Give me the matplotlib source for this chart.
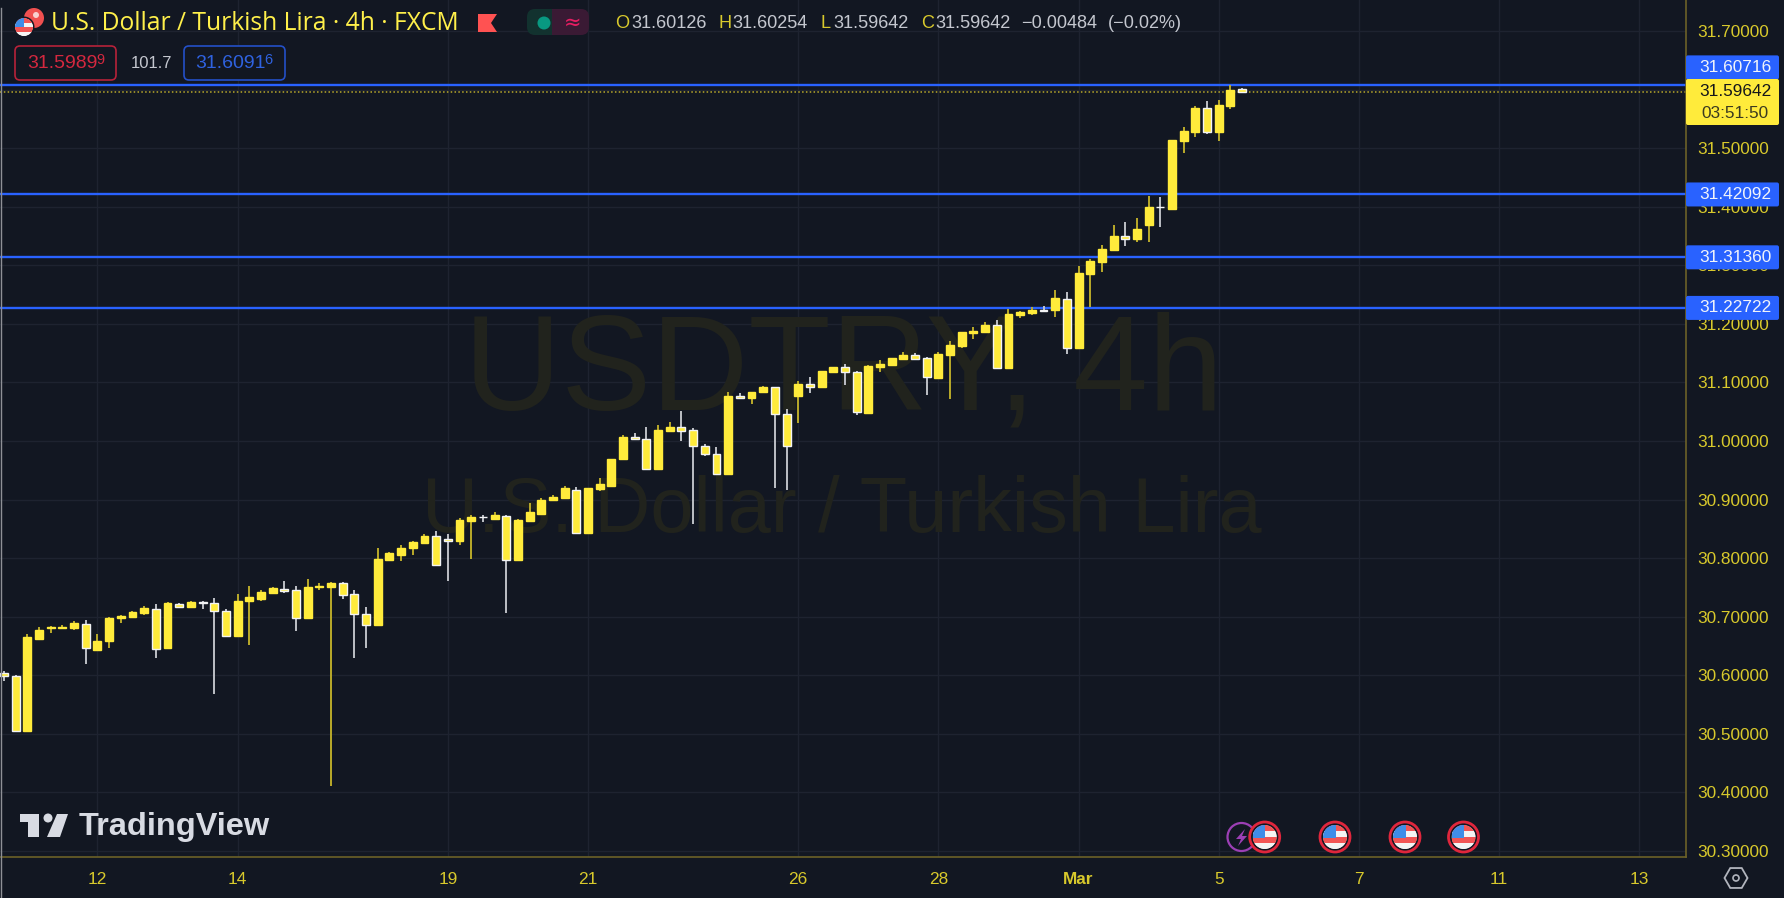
import matplotlib
matplotlib.use("Agg")
import matplotlib.pyplot as plt
from matplotlib.patches import Circle, FancyBboxPatch, Polygon, Rectangle, RegularPolygon

# candles
opens = [30.604, 30.599, 30.505, 30.662, 30.680, 30.681, 30.681, 30.688, 30.644, 30.658,
         30.697, 30.699, 30.707, 30.714, 30.646, 30.722, 30.717, 30.725, 30.724, 30.710,
         30.667, 30.726, 30.731, 30.741, 30.748, 30.746, 30.697, 30.751, 30.751, 30.758,
         30.739, 30.704, 30.686, 30.797, 30.806, 30.817, 30.826, 30.838, 30.832, 30.830,
         30.863, 30.871, 30.866, 30.872, 30.797, 30.863, 30.876, 30.899, 30.903, 30.917,
         30.843, 30.918, 30.924, 30.969, 31.006, 31.003, 30.953, 31.017, 31.024, 31.018,
         30.992, 30.978, 30.943, 31.077, 31.073, 31.083, 31.092, 31.046, 31.077, 31.098,
         31.093, 31.118, 31.126, 31.118, 31.048, 31.127, 31.130, 31.140, 31.146, 31.142,
         31.108, 31.147, 31.162, 31.185, 31.186, 31.198, 31.124, 31.215, 31.218, 31.224,
         31.223, 31.242, 31.159, 31.285, 31.306, 31.326, 31.350, 31.345, 31.369, 31.400,
         31.396, 31.513, 31.528, 31.568, 31.528, 31.572, 31.60126]
closes = [30.599, 30.505, 30.665, 30.678, 30.682, 30.683, 30.689, 30.646, 30.658, 30.698,
          30.701, 30.708, 30.715, 30.645, 30.723, 30.717, 30.725, 30.723, 30.710, 30.667,
          30.727, 30.733, 30.743, 30.749, 30.744, 30.697, 30.750, 30.753, 30.758, 30.737,
          30.704, 30.686, 30.799, 30.809, 30.818, 30.828, 30.838, 30.788, 30.830, 30.865,
          30.871, 30.870, 30.873, 30.797, 30.865, 30.879, 30.900, 30.905, 30.919, 30.843,
          30.920, 30.927, 30.970, 31.006, 31.003, 30.953, 31.018, 31.024, 31.017, 30.991,
          30.977, 30.943, 31.076, 31.073, 31.084, 31.092, 31.046, 30.991, 31.098, 31.093,
          31.120, 31.126, 31.117, 31.049, 31.128, 31.132, 31.142, 31.146, 31.140, 31.109,
          31.148, 31.164, 31.186, 31.188, 31.198, 31.124, 31.216, 31.221, 31.223, 31.222,
          31.244, 31.159, 31.287, 31.308, 31.328, 31.350, 31.345, 31.362, 31.400, 31.399,
          31.514, 31.530, 31.568, 31.528, 31.574, 31.600, 31.59642]
highs = [30.607, 30.601, 30.671, 30.682, 30.685, 30.686, 30.693, 30.695, 30.671, 30.699,
         30.703, 30.709, 30.718, 30.721, 30.725, 30.723, 30.727, 30.727, 30.732, 30.713,
         30.739, 30.753, 30.745, 30.751, 30.761, 30.753, 30.765, 30.758, 30.760, 30.760,
         30.745, 30.717, 30.817, 30.811, 30.822, 30.829, 30.842, 30.846, 30.841, 30.868,
         30.873, 30.873, 30.879, 30.873, 30.866, 30.895, 30.903, 30.907, 30.924, 30.922,
         30.920, 30.936, 30.970, 31.010, 31.013, 31.024, 31.028, 31.032, 31.052, 31.023,
         30.995, 30.990, 31.084, 31.082, 31.084, 31.094, 31.093, 31.054, 31.102, 31.110,
         31.120, 31.127, 31.131, 31.120, 31.130, 31.138, 31.142, 31.152, 31.150, 31.144,
         31.152, 31.170, 31.186, 31.194, 31.203, 31.206, 31.226, 31.222, 31.228, 31.230,
         31.258, 31.255, 31.299, 31.310, 31.334, 31.368, 31.374, 31.380, 31.419, 31.416,
         31.514, 31.536, 31.572, 31.580, 31.583, 31.608, 31.60254]
lows = [30.591, 30.505, 30.505, 30.660, 30.673, 30.680, 30.677, 30.619, 30.641, 30.646,
        30.689, 30.698, 30.703, 30.629, 30.645, 30.716, 30.716, 30.713, 30.568, 30.667,
        30.667, 30.651, 30.726, 30.741, 30.741, 30.675, 30.697, 30.746, 30.411, 30.731,
        30.629, 30.647, 30.686, 30.796, 30.795, 30.806, 30.826, 30.788, 30.761, 30.822,
        30.799, 30.862, 30.865, 30.707, 30.796, 30.862, 30.876, 30.898, 30.903, 30.843,
        30.841, 30.915, 30.924, 30.969, 31.001, 30.950, 30.953, 31.016, 31.000, 30.859,
        30.974, 30.943, 30.943, 31.073, 31.064, 31.083, 30.919, 30.917, 31.031, 31.082,
        31.093, 31.116, 31.095, 31.044, 31.048, 31.117, 31.130, 31.140, 31.140, 31.079,
        31.108, 31.072, 31.159, 31.175, 31.185, 31.124, 31.124, 31.210, 31.215, 31.222,
        31.212, 31.149, 31.159, 31.229, 31.289, 31.325, 31.333, 31.339, 31.339, 31.365,
        31.394, 31.491, 31.519, 31.524, 31.513, 31.567, 31.59642]

level_prices = [31.60716, 31.42092, 31.31360, 31.22722]
last_price = 31.59642
countdown = "03:51:50"

price_ticks = [30.3, 30.4, 30.5, 30.6, 30.7, 30.8, 30.9, 31.0, 31.1, 31.2, 31.3, 31.4, 31.5, 31.6, 31.7]
date_positions = [8, 20, 38, 50, 68, 80, 92, 104, 116, 128, 140]
date_labels = ["12", "14", "19", "21", "26", "28", "Mar", "5", "7", "11", "13"]

BG = "#121722"
GRID = "#1e2330"
YELLOW = "#ffeb3b"
AXIS_YELLOW = "#d8c92c"
AXIS_LINE = "#6b6128"
BLUE = "#2962ff"
WATERMARK = "#21231d"
FONT = "Liberation Sans"

plt.rcParams["font.family"] = [FONT, "DejaVu Sans"]

W, H = 1784, 898
fig = plt.figure(figsize=(W / 100, H / 100), dpi=100, facecolor=BG)
ax = fig.add_axes([0, (H - 857) / H, 1686 / W, 857 / H], facecolor=BG)

# price at pixel row 31 is 31.7, row 851 is 30.3
px_per_unit = 820 / 1.4
ax.set_ylim(31.7 - (857 - 31) / px_per_unit, 31.7 + 31 / px_per_unit)
ax.set_xlim(-4 / 11.68, (1686 - 4) / 11.68)

ax.set_yticks(price_ticks)
ax.set_yticklabels([f"{p:.5f}" for p in price_ticks])
ax.yaxis.tick_right()
ax.set_xticks(date_positions)
ax.set_xticklabels(date_labels)
ax.tick_params(axis="both", length=0, labelcolor=AXIS_YELLOW, labelsize=12.4)
ax.tick_params(axis="y", pad=8)
ax.tick_params(axis="x", pad=10.5)
ax.get_xticklabels()[6].set_fontweight("bold")
ax.set_axisbelow(True)
ax.grid(True, color=GRID, linewidth=1.0)
for side in ["top", "left"]:
    ax.spines[side].set_visible(False)
for side in ["right", "bottom"]:
    ax.spines[side].set_color(AXIS_LINE)
    ax.spines[side].set_linewidth(1.2)

# watermark
ax.text(0.5005, 0.563, "USDTRY, 4h", transform=ax.transAxes, ha="center", va="center",
        fontsize=97, color=WATERMARK, zorder=1)
ax.text(0.4995, 0.403, "U.S. Dollar / Turkish Lira", transform=ax.transAxes, ha="center", va="center",
        fontsize=55.8, color=WATERMARK, zorder=1)

# levels and last price
for p in level_prices:
    ax.axhline(p, color=BLUE, linewidth=1.7, zorder=2)
ax.axhline(last_price, color="#b8a82a", linewidth=1.1, linestyle=(0, (1, 1.5)), zorder=2)

# candles
for i in range(len(opens)):
    up = closes[i] >= opens[i]
    wick = "#c0b02a" if up else "#c4c6cc"
    edge = YELLOW if up else "#f2f3f5"
    ax.vlines(i, lows[i], highs[i], color=wick, linewidth=1.35, zorder=3)
    ax.bar(i, abs(closes[i] - opens[i]), bottom=min(opens[i], closes[i]), width=0.68,
           color=YELLOW, edgecolor=edge, linewidth=1.0, zorder=4)

# interface pieces, in pixel coordinates
ui = fig.add_axes([0, 0, 1, 1], facecolor="none")
ui.set_xlim(0, W)
ui.set_ylim(H, 0)
ui.axis("off")


def price_y(p):
    return 31 + (31.7 - p) * px_per_unit


def box(x0, y0, x1, y1, face, edge=None, lw=0.0, r=2.5):
    ui.add_patch(FancyBboxPatch((x0 + r, y0 + r), x1 - x0 - 2 * r, y1 - y0 - 2 * r,
                                boxstyle=f"round,pad={r},rounding_size={r}",
                                facecolor=face, edgecolor=edge or face, linewidth=lw))


def us_flag(cx, cy, r):
    clip = Circle((cx, cy), r, transform=ui.transData)
    parts = [Circle((cx, cy), r, facecolor="#f4f4f4", edgecolor="none")]
    for k, top in enumerate([-1.0, -0.5, 0.0, 0.5]):
        col = "#f25555" if k % 2 == 0 else "#f4f4f4"
        parts.append(Rectangle((cx - r, cy + top * r), 2 * r, 0.5 * r, facecolor=col, edgecolor="none"))
    parts.append(Rectangle((cx - r, cy - r), r * 1.05, r * 1.05, facecolor="#3f8de8", edgecolor="none"))
    for part in parts:
        ui.add_patch(part)
        part.set_clip_path(clip)


def event_flag(cx, cy):
    ui.add_patch(Circle((cx, cy), 15, facecolor="#121722", edgecolor="#e0263c", linewidth=2.0))
    us_flag(cx, cy, 12)


# left screen edge
ui.plot([1, 1], [8, 898], color="#8e9096", linewidth=1.0)

# header
ui.add_patch(Circle((34, 18), 10, facecolor="#f05050", edgecolor="none"))
ui.add_patch(Circle((36, 15), 3, facecolor="#f8d0d0", edgecolor="none"))
ui.add_patch(Circle((24, 27), 10.5, facecolor=BG, edgecolor="none"))
us_flag(24, 27, 9)
ui.text(51, 23, "U.S. Dollar / Turkish Lira · 4h · FXCM", color="#fff04a", fontsize=17.7,
        ha="left", va="center", family=["Open Sans"])
ui.add_patch(Polygon([(478, 14), (497, 14), (491, 23), (497, 32), (478, 32)], facecolor="#ff5252"))
box(527, 9, 560, 35, "#12322f", r=8)
box(552, 9, 589, 35, "#3a1a34", r=8)
ui.add_patch(Rectangle((552, 9), 8, 26, facecolor="#3a1a34", edgecolor="none"))
ui.add_patch(Circle((544, 23), 6.5, facecolor="#089981", edgecolor="none"))
ui.text(573, 23, "≈", color="#e91e63", fontsize=15, ha="center", va="center",
        family=["DejaVu Sans"])

ohlc = [(615, "O", AXIS_YELLOW), (631, "31.60126", "#c4c7cf"), (719, "H", AXIS_YELLOW),
        (732, "31.60254", "#c4c7cf"), (821, "L", AXIS_YELLOW), (833, "31.59642", "#c4c7cf"),
        (921, "C", AXIS_YELLOW), (935, "31.59642", "#c4c7cf"), (1021, "−0.00484", "#c4c7cf"),
        (1108, "(−0.02%)", "#c4c7cf")]
for x, s, col in ohlc:
    ui.text(x, 23, s, color=col, fontsize=13.1, ha="left", va="center")

# bid / ask buttons
box(15, 46, 116, 80, BG, "#b7223a", 1.2, r=5)
ui.text(27, 64, "31.5989", color="#d4283f", fontsize=14, ha="left", va="center")
ui.text(96, 60, "9", color="#d4283f", fontsize=10.5, ha="left", va="center")
ui.text(131, 63, "101.7", color="#c4c7cf", fontsize=12, ha="left", va="center")
box(184, 46, 285, 80, BG, "#2450c8", 1.2, r=5)
ui.text(195, 64, "31.6091", color="#2f62e0", fontsize=14, ha="left", va="center")
ui.text(264, 60, "6", color="#2f62e0", fontsize=10.5, ha="left", va="center")

# price axis labels
box_offsets = [-18, 0, 0, 0]
for p, off in zip(level_prices, box_offsets):
    yc = price_y(p) + off
    box(1686, yc - 12, 1779, yc + 12, BLUE, r=2)
    ui.text(1735, yc, f"{p:.5f}", color="#f0f3fa", fontsize=12.4, ha="center", va="center")
box(1686, 79, 1779, 125, YELLOW, r=2)
ui.text(1735, 92, f"{last_price:.5f}", color="#15161a", fontsize=12.4, ha="center", va="center")
ui.text(1735, 113, countdown, color="#3b3a20", fontsize=12.4, ha="center", va="center")

# settings icon
ui.add_patch(RegularPolygon((1736, 878), 6, radius=11.5, orientation=3.14159 / 6,
                            facecolor="none", edgecolor="#b2b5be", linewidth=1.3))
ui.add_patch(Circle((1736, 878), 3, facecolor="none", edgecolor="#b2b5be", linewidth=1.2))

# events
ui.add_patch(Circle((1241.5, 837), 14, facecolor=BG, edgecolor="#9c3fb5", linewidth=1.6))
ui.add_patch(Polygon([(1245, 829), (1236, 839), (1241, 839), (1238, 846), (1247, 836), (1242, 836)],
                     facecolor="#9c3fb5", edgecolor="none"))
for x in [1264.7, 1335, 1405, 1463.5]:
    event_flag(x, 837)

# TradingView logo
LOGO = "#d8dbe3"
ui.add_patch(Polygon([(20, 814), (39, 814), (39, 837), (28, 837), (28, 822), (20, 822)], facecolor=LOGO))
ui.add_patch(Circle((48, 818), 4.5, facecolor=LOGO, edgecolor="none"))
ui.add_patch(Polygon([(57, 814), (68, 814), (60, 837), (47, 837)], facecolor=LOGO))
ui.text(79, 827, "TradingView", color=LOGO, fontsize=23.4, fontweight="bold", ha="left", va="center")

fig.savefig("out.png", dpi=100, facecolor=BG)
